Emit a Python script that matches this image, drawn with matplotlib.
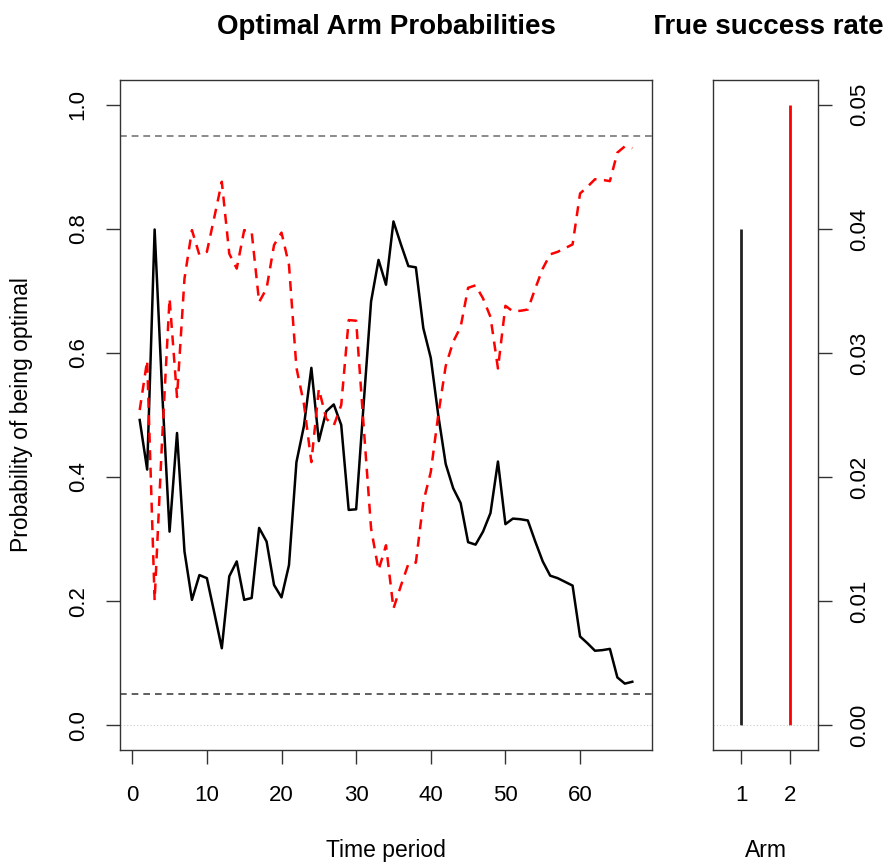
import matplotlib
matplotlib.use("Agg")
import matplotlib.pyplot as plt
from matplotlib.transforms import Bbox, TransformedBbox

plt.rcParams['font.family'] = ['Liberation Sans', 'DejaVu Sans']

# ---- data ----
time_period = list(range(1, 68))
arm1_prob = [0.492, 0.412, 0.799, 0.540, 0.312, 0.471, 0.280, 0.202, 0.242, 0.237,
             0.181, 0.124, 0.240, 0.264, 0.202, 0.205, 0.318, 0.296, 0.226, 0.206,
             0.258, 0.424, 0.482, 0.576, 0.458, 0.506, 0.517, 0.484, 0.347, 0.348,
             0.517, 0.683, 0.750, 0.710, 0.812, 0.775, 0.740, 0.738, 0.640, 0.592,
             0.500, 0.421, 0.382, 0.358, 0.295, 0.291, 0.312, 0.342, 0.425, 0.324,
             0.333, 0.332, 0.330, 0.296, 0.264, 0.241, 0.237, 0.231, 0.225, 0.143,
             0.132, 0.120, 0.121, 0.123, 0.077, 0.067, 0.070]
arm2_prob = [0.508, 0.588, 0.201, 0.460, 0.688, 0.529, 0.720, 0.798, 0.758, 0.763,
             0.819, 0.876, 0.760, 0.736, 0.798, 0.795, 0.682, 0.704, 0.774, 0.794,
             0.742, 0.576, 0.518, 0.424, 0.542, 0.494, 0.483, 0.516, 0.653, 0.652,
             0.483, 0.317, 0.250, 0.290, 0.188, 0.225, 0.260, 0.262, 0.360, 0.408,
             0.500, 0.579, 0.618, 0.642, 0.705, 0.709, 0.688, 0.658, 0.575, 0.676,
             0.667, 0.668, 0.670, 0.704, 0.736, 0.759, 0.763, 0.769, 0.775, 0.857,
             0.868, 0.880, 0.879, 0.877, 0.923, 0.933, 0.930]
upper_threshold = 0.95
lower_threshold = 0.05
arms = [1, 2]
true_rates = [0.04, 0.05]
arm_colors = ['#222222', '#ff0000']
x_ticks = [0, 10, 20, 30, 40, 50, 60]
y_ticks = [0.0, 0.2, 0.4, 0.6, 0.8, 1.0]
rate_ticks = [0.00, 0.01, 0.02, 0.03, 0.04, 0.05]

W, H = 887, 863
fig = plt.figure(figsize=(W / 100, H / 100), dpi=100)

def frac_rect(l, r, t, b):
    return [l / W, 1 - b / H, (r - l) / W, (b - t) / H]

tick_fs = 16
label_fs = 16.5
title_fs = 20

def style_axes(a):
    a.tick_params(direction='out', length=10, width=1, labelsize=tick_fs,
                  colors='#333333', labelcolor='black')
    a.tick_params(axis='x', pad=15)
    a.tick_params(axis='y', pad=12.5)
    for s in a.spines.values():
        s.set_color('#333333')
        s.set_linewidth(1)

# ---- left panel ----
ax = fig.add_axes(frac_rect(120, 652, 80, 750))
ax.plot(time_period, arm1_prob, color='black', lw=1.8, solid_joinstyle='round')
ax.plot(time_period, arm2_prob, color='#ff0000', lw=1.8, dashes=(4, 3))
ax.axhline(upper_threshold, color='#8a8a8a', lw=1.4, dashes=(3.5, 2.5))
ax.axhline(lower_threshold, color='#444444', lw=1.2, dashes=(4, 3))
ax.axhline(0, color='#cccccc', lw=0.8, ls=(0, (1, 2)))
ax.set_xlim(1 - 0.04 * 66, 67 + 0.04 * 66)
ax.set_ylim(-0.04, 1.04)
ax.set_xticks(x_ticks)
ax.set_yticks(y_ticks)
ax.set_yticklabels([f"{v:.1f}" for v in y_ticks], rotation=90, va='center')
style_axes(ax)

fig.text(22 / W, 1 - 415 / H, "Probability of being optimal", rotation=90,
         ha='center', va='center', fontsize=label_fs)
fig.text(386 / W, 1 - 850 / H, "Time period", ha='center', va='center',
         fontsize=label_fs)
fig.text(386 / W, 1 - 27 / H, "Optimal Arm Probabilities", ha='center',
         va='center', fontsize=title_fs, fontweight='bold')

# ---- right panel ----
ax2 = fig.add_axes(frac_rect(713, 818, 80, 750))
ax2.vlines(arms, 0, true_rates, colors=arm_colors, lw=2)
ax2.axhline(0, color='#cccccc', lw=0.8, ls=(0, (1, 2)))
ax2.set_xlim(0.42, 2.58)
ax2.set_ylim(-0.002, 0.052)
ax2.set_xticks(arms)
ax2.yaxis.tick_right()
ax2.set_yticks(rate_ticks)
ax2.set_yticklabels([f"{v:.2f}" for v in rate_ticks], rotation=90, va='center')
style_axes(ax2)

fig.text(766 / W, 1 - 850 / H, "Arm", ha='center', va='center',
         fontsize=label_fs)
t2 = fig.text(766 / W, 1 - 27 / H, "True success rate", ha='center',
              va='center', fontsize=title_fs, fontweight='bold')
t2.set_clip_on(True)
t2.set_clip_box(TransformedBbox(Bbox([[655 / W, 0], [1, 1]]), fig.transFigure))

fig.savefig("out.png", dpi=100)
